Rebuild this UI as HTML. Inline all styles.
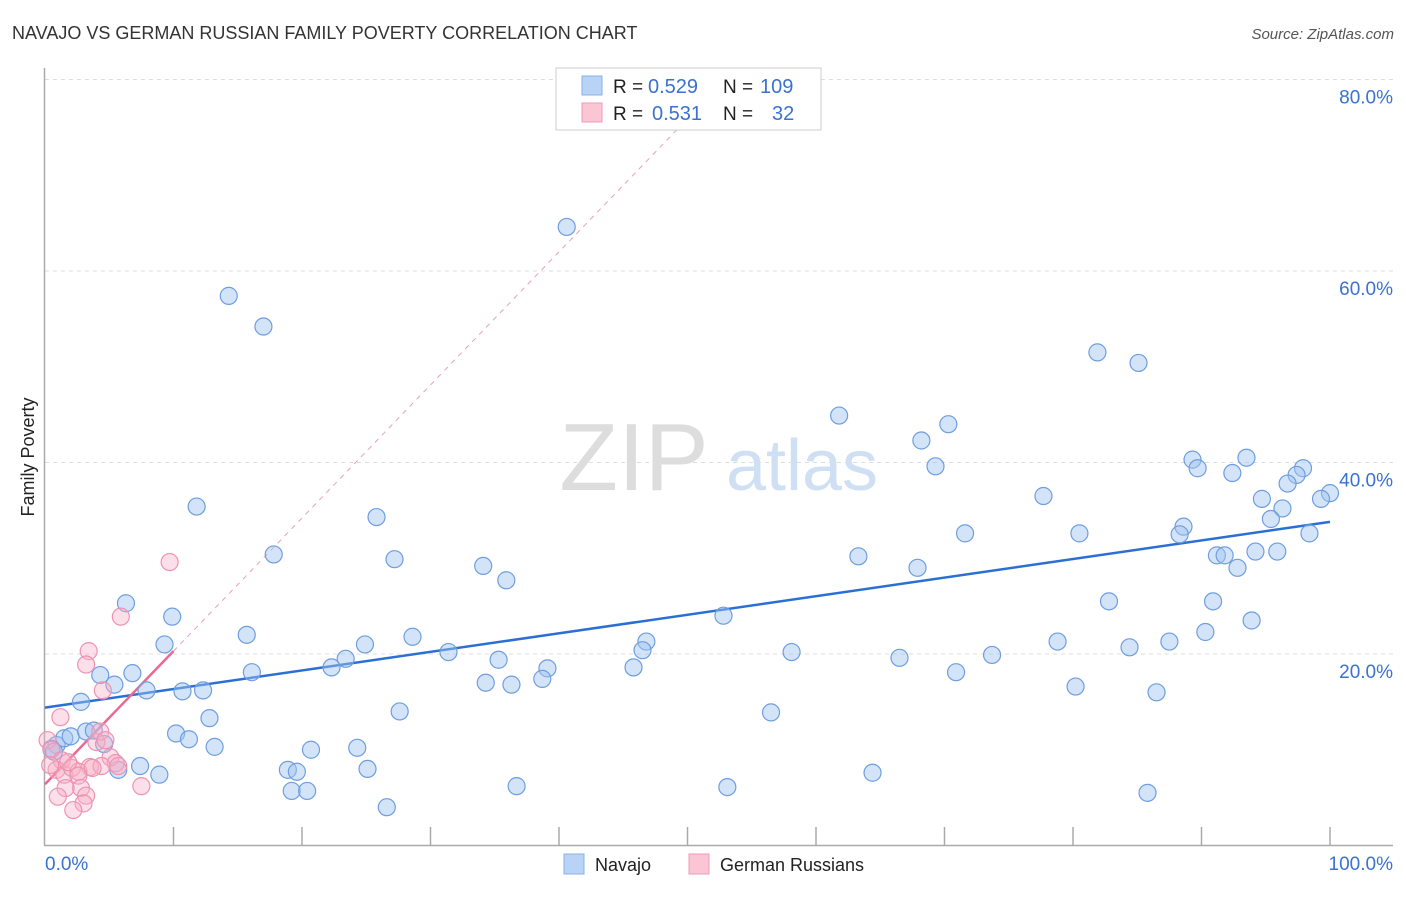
<!DOCTYPE html>
<html><head><meta charset="utf-8"><style>
body{margin:0;background:#fff;font-family:"Liberation Sans",sans-serif;}
svg text{font-family:"Liberation Sans",sans-serif;}
</style></head><body>
<svg id="chart" width="1406" height="892">
<text x="12" y="39" font-size="18" fill="#333">NAVAJO VS GERMAN RUSSIAN FAMILY POVERTY CORRELATION CHART</text>
<text x="1394" y="39" font-size="15" fill="#555" font-style="italic" text-anchor="end">Source: ZipAtlas.com</text>
<text x="34" y="457" font-size="18" fill="#222" text-anchor="middle" transform="rotate(-90 34 457)">Family Poverty</text>
<g>
<text x="634" y="490" font-size="96" font-family="Liberation Serif" fill="#ddd" text-anchor="middle">ZIP</text>
<text x="802" y="490" font-size="72" fill="#cfe0f4" text-anchor="middle">atlas</text>
</g>
<g id="grid"></g><g id="axes"></g><g id="trend"></g><g id="pts"></g>
<g>
<rect x="556" y="68" width="265" height="62" fill="#fff" stroke="#ccc"/>
<rect x="582" y="76" width="20" height="19" fill="#b8d3f5" stroke="#8ab0e6"/>
<rect x="582" y="103" width="20" height="19" fill="#fac6d6" stroke="#f09ab5"/>
<text x="613" y="93" font-size="19" fill="#222">R =</text><text x="648" y="93" font-size="20" fill="#3a72d0">0.529</text>
<text x="723" y="93" font-size="19" fill="#222">N =</text><text x="760" y="93" font-size="20" fill="#3a72d0">109</text>
<text x="613" y="120" font-size="19" fill="#222">R =</text><text x="652" y="120" font-size="20" fill="#3a72d0">0.531</text>
<text x="723" y="120" font-size="19" fill="#222">N =</text><text x="772" y="120" font-size="20" fill="#3a72d0">32</text>
</g>
<g>
<rect x="564" y="854" width="20" height="20" fill="#b8d3f5" stroke="#8ab0e6"/>
<text x="595" y="871" font-size="18" fill="#222">Navajo</text>
<rect x="689" y="854" width="20" height="20" fill="#fac6d6" stroke="#f09ab5"/>
<text x="720" y="871" font-size="18" fill="#222">German Russians</text>
</g>
</svg>
<script>
const navX=[40.6,14.3,17.0,81.9,85.1,61.8,70.3,68.2,69.3,89.3,93.5,89.7,92.4,97.9,97.4,96.7,100.0,99.3,94.7,96.3,95.4,77.7,11.8,25.8,71.6,80.5,88.6,88.3,98.4,17.8,27.2,63.3,91.2,91.8,94.2,95.9,92.8,34.1,35.9,67.9,6.3,82.8,90.9,9.9,52.8,93.9,15.7,28.6,90.3,9.3,24.9,46.8,78.8,84.4,87.5,31.4,46.5,58.1,73.7,66.5,23.4,22.3,35.3,39.1,45.8,6.8,4.3,16.1,70.9,34.3,36.3,38.7,5.4,7.9,10.7,12.3,80.2,86.5,2.8,27.6,12.8,56.5,10.2,11.2,0.9,1.5,2.0,3.2,3.8,4.6,0.5,0.7,13.2,20.7,24.3,7.4,5.7,8.9,18.9,19.6,25.1,64.4,36.7,53.1,19.2,20.4,26.6,85.8];
const navY=[64.6,57.4,54.2,51.5,50.4,44.9,44.0,42.3,39.6,40.3,40.5,39.4,38.9,39.4,38.7,37.8,36.8,36.2,36.2,35.2,34.1,36.5,35.4,34.3,32.6,32.6,33.3,32.5,32.6,30.4,29.9,30.2,30.3,30.3,30.7,30.7,29.0,29.2,27.7,29.0,25.3,25.5,25.5,23.9,24.0,23.5,22.0,21.8,22.3,21.0,21.0,21.3,21.3,20.7,21.3,20.2,20.4,20.2,19.9,19.6,19.5,18.6,19.4,18.5,18.6,18.0,17.8,18.1,18.1,17.0,16.8,17.4,16.8,16.2,16.1,16.2,16.6,16.0,15.0,14.0,13.3,13.9,11.7,11.1,10.5,11.2,11.4,11.9,12.0,10.6,10.1,9.8,10.3,10.0,10.2,8.3,7.9,7.4,7.9,7.7,8.0,7.6,6.2,6.1,5.7,5.7,4.0,5.5];
const grX=[9.7,5.9,3.4,3.2,4.5,1.2,4.0,0.2,0.5,1.3,5.1,5.5,0.9,1.5,2.1,3.5,4.4,2.6,3.7,2.6,2.8,1.6,1.0,3.2,3.0,2.2,7.5,4.3,4.7,0.4,1.8,5.7];
const grY=[29.6,23.9,20.3,18.9,16.2,13.4,10.8,11.0,10.0,8.9,9.2,8.6,7.9,7.4,8.1,8.2,8.3,7.7,8.1,7.3,6.0,6.0,5.1,5.2,4.4,3.7,6.2,11.9,11.0,8.4,8.7,8.3];
const yTicks=[20,40,60,80];
const yTickLabels=["20.0%","40.0%","60.0%","80.0%"];
const xTicks=[0,10,20,30,40,50,60,70,80,90,100];
const navTrend=[14.4,33.8];
const grTrend=[6.4,20.3];

const NS="http://www.w3.org/2000/svg";
const X=v=>45+v*12.85, Y=v=>845.5-v*9.575;
function mk(tag,attrs,parent){const e=document.createElementNS(NS,tag);for(const k in attrs)e.setAttribute(k,attrs[k]);document.getElementById(parent).appendChild(e);return e;}
yTicks.forEach((t,i)=>{
 const g=mk('line',{x1:45,x2:1393,y1:Y(t),y2:Y(t),stroke:'#ddd','stroke-dasharray':'4,4'},'grid');
 
 
 const l=mk('text',{x:1393,y:Y(t)+24,'font-size':19,fill:'#3a72d0','text-anchor':'end'},'grid');
 l.textContent=yTickLabels[i];
 
 
});
const ax=mk('line',{x1:44.5,x2:44.5,y1:68,y2:845,stroke:'#aaa','stroke-width':1.5},'axes');


const bx=mk('line',{x1:44,x2:1393,y1:845.5,y2:845.5,stroke:'#aaa','stroke-width':1.5},'axes');


xTicks.forEach(t=>{if(t===0)return;
 const k=mk('line',{x1:X(t),x2:X(t),y1:827,y2:845,stroke:'#aaa','stroke-width':1.5},'axes');
 
 
});
const xl0=mk('text',{x:45,y:870,'font-size':19,fill:'#3a72d0'},'axes');xl0.textContent='0.0%';


const xl1=mk('text',{x:1393,y:870,'font-size':19,fill:'#3a72d0','text-anchor':'end'},'axes');xl1.textContent='100.0%';


const gs=(grTrend[1]-grTrend[0])/10;
const xe=(80-grTrend[0])/gs;
const d1=mk('line',{x1:X(10),y1:Y(grTrend[1]),x2:X(Math.min(xe,50)),y2:Y(grTrend[0]+gs*Math.min(xe,50)),stroke:'#e8a0b8','stroke-width':1,'stroke-dasharray':'5,5'},'trend');


const t1=mk('line',{x1:X(0),y1:Y(navTrend[0]),x2:X(100),y2:Y(navTrend[1]),stroke:'#2a6fd6','stroke-width':2.5},'trend');


const t2=mk('line',{x1:X(0),y1:Y(grTrend[0]),x2:X(10),y2:Y(grTrend[1]),stroke:'#e86a92','stroke-width':2.5},'trend');


navX.forEach((v,i)=>{
 const c=mk('circle',{cx:X(v),cy:Y(navY[i]),r:8.5,fill:'rgba(160,196,240,0.45)',stroke:'#6e9ee0','stroke-width':1.2},'pts');
 
 
});
grX.forEach((v,i)=>{
 const c=mk('circle',{cx:X(v),cy:Y(grY[i]),r:8.5,fill:'rgba(248,175,198,0.4)',stroke:'#ee93b2','stroke-width':1.2},'pts');
 
 
});
</script>
</body></html>
